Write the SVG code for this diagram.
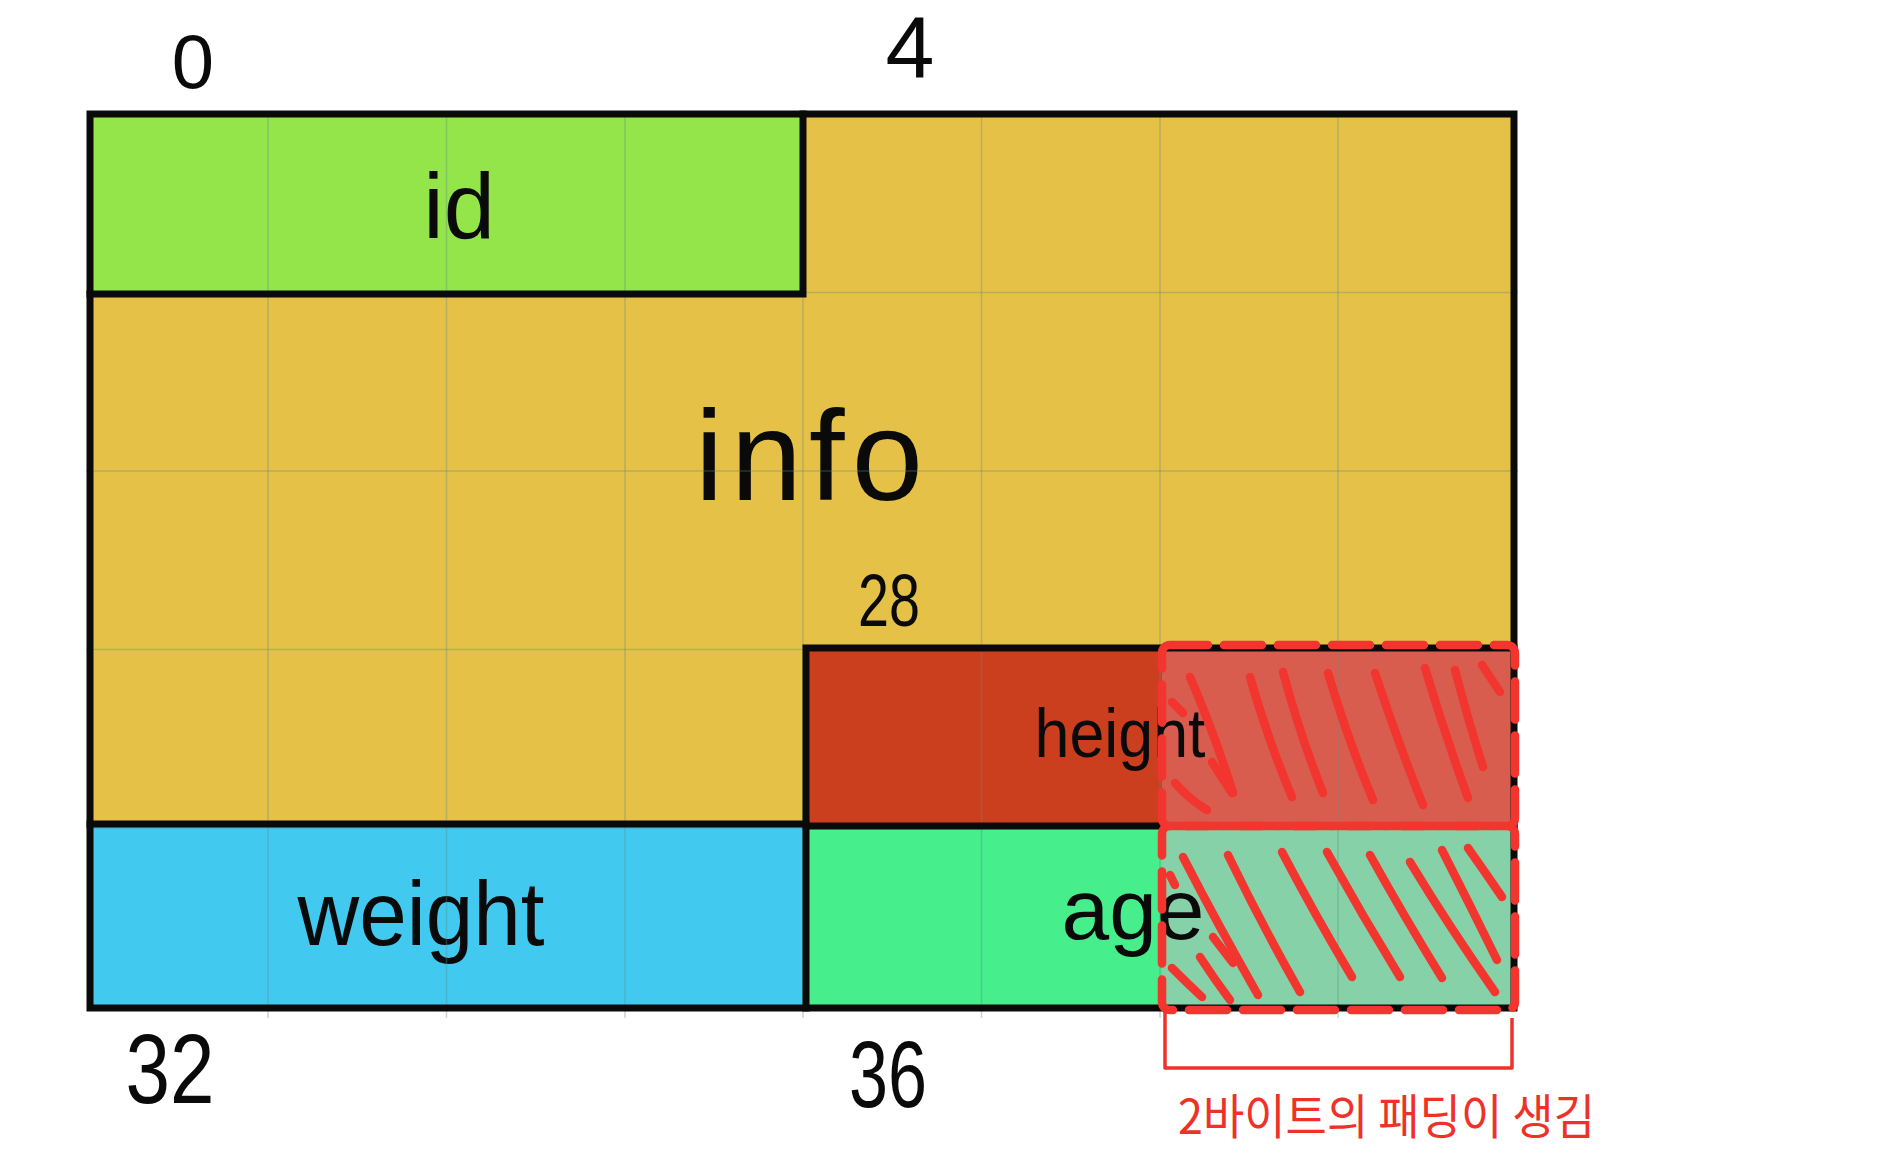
<svg xmlns="http://www.w3.org/2000/svg" width="1903" height="1172" viewBox="0 0 1903 1172">
<style>
.lbl{font-family:"Liberation Sans","DejaVu Sans",sans-serif;fill:#0a0a0a;text-anchor:middle}
.kr{font-family:"Noto Sans CJK KR","Noto Sans",sans-serif;fill:#ee3229}
.grid{stroke:#5f8a8a;stroke-opacity:0.35;stroke-width:1.5;fill:none}
.bd{stroke:#0a0a0a;stroke-width:7;fill:none;stroke-linecap:square}
.dash{fill:none;stroke:#f2352e;stroke-width:8.5;stroke-dasharray:38 16;stroke-linecap:round}
.hatch{fill:none;stroke:#f2352e;stroke-width:8.5;stroke-linecap:round}
.brk{fill:none;stroke:#ee3229;stroke-width:3.5;stroke-linejoin:round}
</style>
<rect width="1903" height="1172" fill="#ffffff"/>

<g id="node-info">
  <rect x="90" y="114" width="1424" height="894" fill="#e5c147"/>
  <text class="lbl" x="809" y="500" font-size="128" textLength="228" lengthAdjust="spacing">info</text>
</g>
<g id="node-id">
  <rect x="90" y="114" width="713" height="180" fill="#93e54a"/>
  <text class="lbl" x="459" y="238" font-size="92">id</text>
</g>
<g id="node-weight">
  <rect x="90" y="824" width="716" height="184" fill="#42c9ef"/>
  <text class="lbl" x="421" y="945" font-size="90" textLength="247" lengthAdjust="spacingAndGlyphs">weight</text>
</g>
<g id="node-height">
  <rect x="806" y="648" width="708" height="178" fill="#cc3f1e"/>
</g>
<g id="node-age">
  <rect x="806" y="826" width="708" height="182" fill="#46ee8c"/>
</g>
<g id="padding-fill">
  <rect x="1162" y="646" width="352" height="180" fill="#d95d4e"/>
  <rect x="1162" y="826" width="352" height="182" fill="#87d1a9"/>
</g>

<g id="grid" class="grid">
  <path d="M268 114V1018M446.5 114V1018M625 114V1018M803 114V1018M981.5 114V1018M1160 114V1018M1338 114V1018"/>
  <path d="M86 292.5H1518M86 471H1518M86 649.5H1518M86 828H1518"/>
</g>

<g id="borders">
  <rect class="bd" x="90" y="114" width="1424" height="894"/>
  <path class="bd" d="M803 114V294M90 294H803"/>
  <path class="bd" d="M90 824H806" stroke-width="9"/>
  <path class="bd" d="M806 648V1008M806 648H1514"/>
  <path class="bd" d="M806 826H1514" stroke-width="5"/>
</g>

<g id="labels-fields">
  <text class="lbl" x="1120" y="757" font-size="68" textLength="171" lengthAdjust="spacingAndGlyphs">height</text>
  <text class="lbl" x="1133" y="939" font-size="86" textLength="143" lengthAdjust="spacingAndGlyphs">age</text>
</g>

<g id="padding-hatch" class="hatch">
  <path d="M1190 677Q1215 735 1233 793"/>
  <path d="M1250 677Q1268 740 1292 797"/>
  <path d="M1283 672Q1300 735 1323 793"/>
  <path d="M1328 673Q1348 740 1373 800"/>
  <path d="M1375 673Q1397 740 1423 805"/>
  <path d="M1425 668Q1445 735 1468 798"/>
  <path d="M1455 670Q1468 720 1483 767"/>
  <path d="M1482 665Q1492 680 1500 692"/>
  <path d="M1172 702L1183 713"/>
  <path d="M1175 783Q1190 800 1207 810"/>
  <path d="M1212 762Q1222 778 1232 793"/>
  <path d="M1183 857Q1218 925 1258 995"/>
  <path d="M1228 855Q1262 925 1300 992"/>
  <path d="M1282 852Q1315 915 1352 977"/>
  <path d="M1327 852Q1362 915 1400 977"/>
  <path d="M1370 855Q1405 918 1442 978"/>
  <path d="M1410 862Q1450 928 1495 992"/>
  <path d="M1442 850Q1470 905 1497 960"/>
  <path d="M1468 848Q1485 872 1502 897"/>
  <path d="M1170 875L1175 885"/>
  <path d="M1213 937Q1223 950 1233 963"/>
  <path d="M1200 957Q1215 980 1230 1000"/>
  <path d="M1172 968Q1187 983 1202 997"/>
</g>

<g id="padding-border">
  <rect class="dash" x="1162" y="645" width="353" height="181" rx="8"/>
  <rect class="dash" x="1162" y="826" width="353" height="184" rx="8"/>
</g>

<g id="offsets">
  <text class="lbl" x="193" y="88" font-size="76">0</text>
  <text class="lbl" x="910" y="78" font-size="88">4</text>
  <text class="lbl" x="889" y="626" font-size="74" textLength="62" lengthAdjust="spacingAndGlyphs">28</text>
  <text class="lbl" x="170" y="1103" font-size="98" textLength="89" lengthAdjust="spacingAndGlyphs">32</text>
  <text class="lbl" x="888" y="1107" font-size="94" textLength="78" lengthAdjust="spacingAndGlyphs">36</text>
</g>

<g id="connectors">
  <path class="brk" d="M1165 1010V1068H1512V1018"/>
</g>

<g id="note">
  <text class="kr" x="1178" y="1134" font-size="48" textLength="417" lengthAdjust="spacingAndGlyphs">2바이트의 패딩이 생김</text>
</g>
</svg>
